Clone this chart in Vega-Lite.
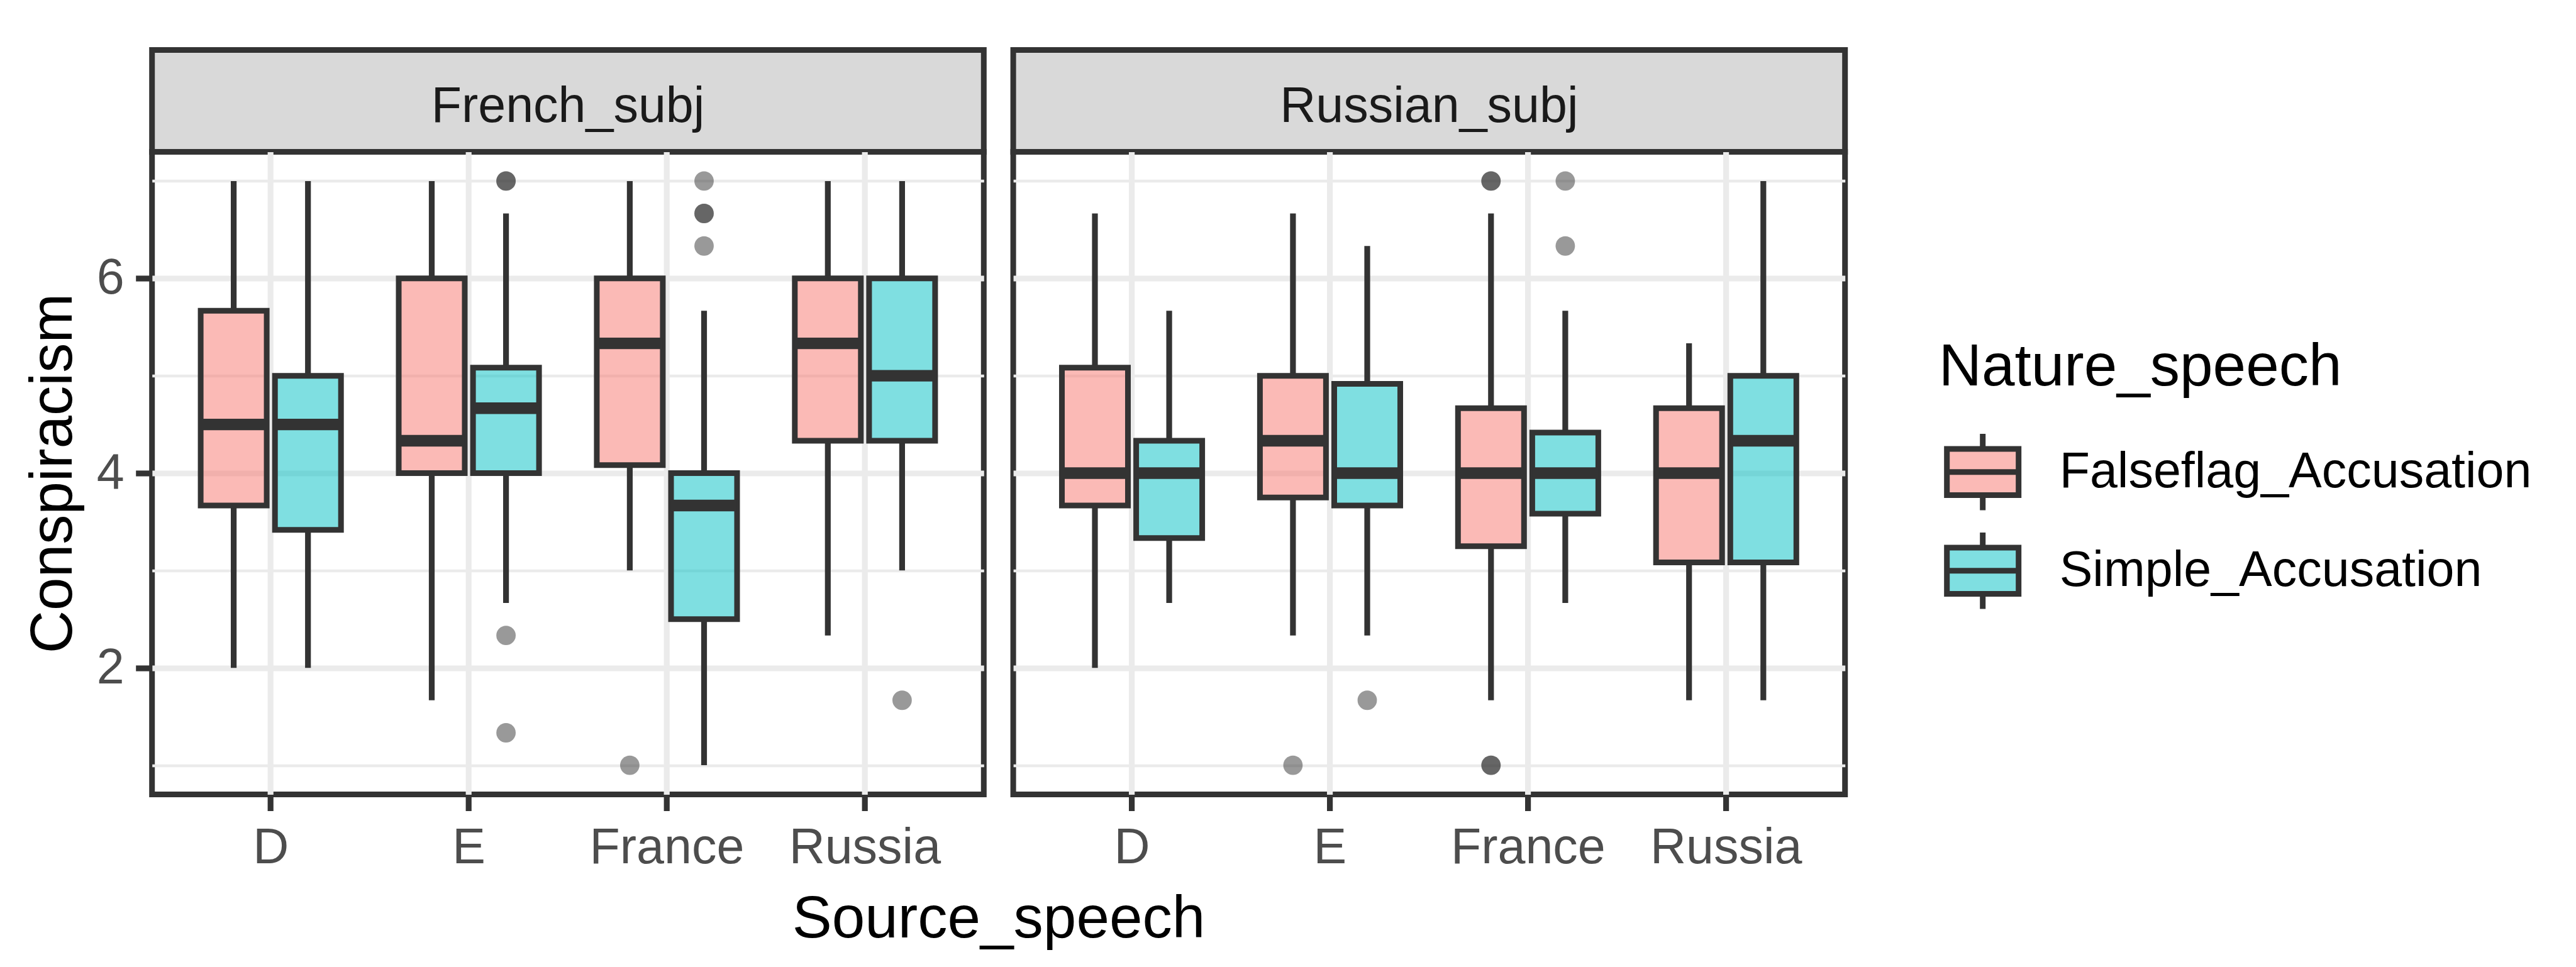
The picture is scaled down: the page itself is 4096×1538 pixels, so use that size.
{
  "$schema": "https://vega.github.io/schema/vega-lite/v6.json",
  "background": "white",
  "padding": {"left": 31.7, "top": 74.5, "right": 5, "bottom": 5},
  "bounds": "flush",
  "columns": 2,
  "spacing": {"row": 0, "column": 46.4},
  "config": {
    "font": "Liberation Sans",
    "view": {"stroke": "#333333", "strokeWidth": 9}
  },
  "datasets": {
    "stats": [
      {"subj": "French_subj", "source": "D", "nature": "Falseflag_Accusation", "lower": 2, "q1": 3.667, "median": 4.5, "q3": 5.667, "upper": 7},
      {"subj": "French_subj", "source": "D", "nature": "Simple_Accusation", "lower": 2, "q1": 3.417, "median": 4.5, "q3": 5, "upper": 7},
      {"subj": "French_subj", "source": "E", "nature": "Falseflag_Accusation", "lower": 1.667, "q1": 4, "median": 4.333, "q3": 6, "upper": 7},
      {"subj": "French_subj", "source": "E", "nature": "Simple_Accusation", "lower": 2.667, "q1": 4, "median": 4.667, "q3": 5.083, "upper": 6.667},
      {"subj": "French_subj", "source": "France", "nature": "Falseflag_Accusation", "lower": 3, "q1": 4.083, "median": 5.333, "q3": 6, "upper": 7},
      {"subj": "French_subj", "source": "France", "nature": "Simple_Accusation", "lower": 1, "q1": 2.5, "median": 3.667, "q3": 4, "upper": 5.667},
      {"subj": "French_subj", "source": "Russia", "nature": "Falseflag_Accusation", "lower": 2.333, "q1": 4.333, "median": 5.333, "q3": 6, "upper": 7},
      {"subj": "French_subj", "source": "Russia", "nature": "Simple_Accusation", "lower": 3, "q1": 4.333, "median": 5, "q3": 6, "upper": 7},
      {"subj": "Russian_subj", "source": "D", "nature": "Falseflag_Accusation", "lower": 2, "q1": 3.667, "median": 4, "q3": 5.083, "upper": 6.667},
      {"subj": "Russian_subj", "source": "D", "nature": "Simple_Accusation", "lower": 2.667, "q1": 3.333, "median": 4, "q3": 4.333, "upper": 5.667},
      {"subj": "Russian_subj", "source": "E", "nature": "Falseflag_Accusation", "lower": 2.333, "q1": 3.75, "median": 4.333, "q3": 5, "upper": 6.667},
      {"subj": "Russian_subj", "source": "E", "nature": "Simple_Accusation", "lower": 2.333, "q1": 3.667, "median": 4, "q3": 4.917, "upper": 6.333},
      {"subj": "Russian_subj", "source": "France", "nature": "Falseflag_Accusation", "lower": 1.667, "q1": 3.25, "median": 4, "q3": 4.667, "upper": 6.667},
      {"subj": "Russian_subj", "source": "France", "nature": "Simple_Accusation", "lower": 2.667, "q1": 3.583, "median": 4, "q3": 4.417, "upper": 5.667},
      {"subj": "Russian_subj", "source": "Russia", "nature": "Falseflag_Accusation", "lower": 1.667, "q1": 3.083, "median": 4, "q3": 4.667, "upper": 5.333},
      {"subj": "Russian_subj", "source": "Russia", "nature": "Simple_Accusation", "lower": 1.667, "q1": 3.083, "median": 4.333, "q3": 5, "upper": 7}
    ],
    "outliers": [
      {"subj": "French_subj", "source": "E", "nature": "Simple_Accusation", "value": 7},
      {"subj": "French_subj", "source": "E", "nature": "Simple_Accusation", "value": 7},
      {"subj": "French_subj", "source": "E", "nature": "Simple_Accusation", "value": 2.333},
      {"subj": "French_subj", "source": "E", "nature": "Simple_Accusation", "value": 1.333},
      {"subj": "French_subj", "source": "France", "nature": "Falseflag_Accusation", "value": 1},
      {"subj": "French_subj", "source": "France", "nature": "Simple_Accusation", "value": 7},
      {"subj": "French_subj", "source": "France", "nature": "Simple_Accusation", "value": 6.667},
      {"subj": "French_subj", "source": "France", "nature": "Simple_Accusation", "value": 6.667},
      {"subj": "French_subj", "source": "France", "nature": "Simple_Accusation", "value": 6.333},
      {"subj": "French_subj", "source": "Russia", "nature": "Simple_Accusation", "value": 1.667},
      {"subj": "Russian_subj", "source": "E", "nature": "Falseflag_Accusation", "value": 1},
      {"subj": "Russian_subj", "source": "E", "nature": "Simple_Accusation", "value": 1.667},
      {"subj": "Russian_subj", "source": "France", "nature": "Falseflag_Accusation", "value": 7},
      {"subj": "Russian_subj", "source": "France", "nature": "Falseflag_Accusation", "value": 7},
      {"subj": "Russian_subj", "source": "France", "nature": "Falseflag_Accusation", "value": 1},
      {"subj": "Russian_subj", "source": "France", "nature": "Falseflag_Accusation", "value": 1},
      {"subj": "Russian_subj", "source": "France", "nature": "Simple_Accusation", "value": 7},
      {"subj": "Russian_subj", "source": "France", "nature": "Simple_Accusation", "value": 6.333}
    ],
    "strips": [
      {"subj": "French_subj"},
      {"subj": "Russian_subj"}
    ]
  },
  "concat": [
    {
      "width": 1322.6,
      "height": 162,
      "view": {"fill": "#D9D9D9", "stroke": "#333333", "strokeWidth": 9},
      "data": {"name": "strips"},
      "transform": [{"filter": "datum.subj === 'French_subj'"}],
      "mark": {"type": "text", "fontSize": 79, "color": "#1A1A1A", "baseline": "alphabetic", "align": "center", "dy": 33},
      "encoding": {"text": {"field": "subj", "type": "nominal"}}
    },
    {
      "width": 1322.6,
      "height": 162,
      "view": {"fill": "#D9D9D9", "stroke": "#333333", "strokeWidth": 9},
      "data": {"name": "strips"},
      "transform": [{"filter": "datum.subj === 'Russian_subj'"}],
      "mark": {"type": "text", "fontSize": 79, "color": "#1A1A1A", "baseline": "alphabetic", "align": "center", "dy": 33},
      "encoding": {"text": {"field": "subj", "type": "nominal"}}
    },
    {
      "width": 1322.6,
      "height": 1022,
      "encoding": {
        "x": {
          "field": "source", "type": "nominal",
          "scale": {"domain": ["D", "E", "France", "Russia"], "paddingInner": 0, "paddingOuter": 0.1},
          "axis": {
            "bandPosition": 0.5, "labelFontSize": 79, "labelColor": "#4D4D4D", "labelAngle": 0, "labelPadding": 21, "labelLimit": 0,
            "tickSize": 26, "tickWidth": 9.2, "tickColor": "#333333", "grid": true, "gridColor": "#EBEBEB", "gridWidth": 9.2,
            "domain": false, "title": "Source_speech", "titleFontSize": 94.5, "titleFontWeight": "normal", "titleColor": "#000000",
            "titlePadding": 27, "titleX": 1345.8, "titleAlign": "center", "titleLimit": 0
          }
        },
        "xOffset": {
          "field": "nature", "type": "nominal",
          "scale": {"domain": ["Falseflag_Accusation", "Simple_Accusation"], "paddingInner": 0.111, "paddingOuter": 0.3887}
        }
      },
      "layer": [
        {
          "data": {"name": "stats"},
          "transform": [{"filter": "datum.subj === 'French_subj'"}],
          "mark": {"type": "rule", "color": "#333333", "strokeWidth": 9.2},
          "encoding": {
            "y": {
              "field": "lower", "type": "quantitative",
              "scale": {"domain": [0.7, 7.3], "nice": false, "zero": false},
              "axis": {
                "values": [1, 2, 3, 4, 5, 6, 7],
                "format": "d",
                "labelExpr": "datum.value % 2 === 0 ? datum.label : ''",
                "grid": true, "gridColor": "#EBEBEB",
                "gridWidth": {"condition": {"test": "datum.value % 2 === 0", "value": 9.2}, "value": 4.6},
                "tickSize": 26, "tickWidth": 9.2, "tickColor": "#333333",
                "tickOpacity": {"condition": {"test": "datum.value % 2 === 0", "value": 1}, "value": 0},
                "labelFontSize": 79, "labelColor": "#4D4D4D", "labelPadding": 18.6,
                "domain": false, "title": "Conspiracism", "titleFontSize": 94.5, "titleFontWeight": "normal",
                "titleColor": "#000000", "titlePadding": 20
              }
            },
            "y2": {"field": "q1"}
          }
        },
        {
          "data": {"name": "stats"},
          "transform": [{"filter": "datum.subj === 'French_subj'"}],
          "mark": {"type": "rule", "color": "#333333", "strokeWidth": 9.2},
          "encoding": {
            "y": {"field": "q3", "type": "quantitative", "title": "Conspiracism"},
            "y2": {"field": "upper"}
          }
        },
        {
          "data": {"name": "stats"},
          "transform": [{"filter": "datum.subj === 'French_subj'"}],
          "mark": {"type": "bar", "fillOpacity": 0.5, "stroke": "#333333", "strokeWidth": 9, "strokeOpacity": 1},
          "encoding": {
            "y": {"field": "q1", "type": "quantitative", "title": "Conspiracism"},
            "y2": {"field": "q3"},
            "fill": {
              "field": "nature", "type": "nominal",
              "scale": {"domain": ["Falseflag_Accusation", "Simple_Accusation"], "range": ["#F8766D", "#00BFC4"]},
              "legend": {
                "title": "Nature_speech", "orient": "none", "legendX": 2841, "legendY": 458.7, "padding": 0,
                "titleFontSize": 94.5, "titleFontWeight": "normal", "titleColor": "#000000", "titlePadding": 56.5, "titleLimit": 0,
                "labelFontSize": 79, "labelColor": "#000000", "labelOffset": 60.5, "labelLimit": 0,
                "symbolType": "M-1,-0.646H1V0.646H-1Z M-1,0H1 M0,-0.646V-1.067 M0,0.646V1.067",
                "symbolSize": 12996, "symbolStrokeWidth": 9, "symbolStrokeColor": "#333333", "symbolOffset": 8.5,
                "rowPadding": -2,
                "encode": {"symbols": {"update": {"fillOpacity": {"value": 0.5}, "stroke": {"value": "#333333"}, "strokeOpacity": {"value": 1}}}}
              }
            }
          }
        },
        {
          "data": {"name": "stats"},
          "transform": [{"filter": "datum.subj === 'French_subj'"}],
          "mark": {"type": "tick", "color": "#333333", "opacity": 1, "thickness": 18.4, "size": 105, "orient": "horizontal"},
          "encoding": {
            "y": {"field": "median", "type": "quantitative", "title": "Conspiracism"}
          }
        },
        {
          "data": {"name": "outliers"},
          "transform": [{"filter": "datum.subj === 'French_subj'"}],
          "mark": {"type": "point", "filled": true, "color": "#333333", "opacity": 0.5, "size": 950},
          "encoding": {
            "y": {"field": "value", "type": "quantitative", "title": "Conspiracism"}
          }
        }
      ]
    },
    {
      "width": 1322.6,
      "height": 1022,
      "encoding": {
        "x": {
          "field": "source", "type": "nominal",
          "scale": {"domain": ["D", "E", "France", "Russia"], "paddingInner": 0, "paddingOuter": 0.1},
          "axis": {
            "bandPosition": 0.5, "labelFontSize": 79, "labelColor": "#4D4D4D", "labelAngle": 0, "labelPadding": 21, "labelLimit": 0,
            "tickSize": 26, "tickWidth": 9.2, "tickColor": "#333333", "grid": true, "gridColor": "#EBEBEB", "gridWidth": 9.2,
            "domain": false, "title": null
          }
        },
        "xOffset": {
          "field": "nature", "type": "nominal",
          "scale": {"domain": ["Falseflag_Accusation", "Simple_Accusation"], "paddingInner": 0.111, "paddingOuter": 0.3887}
        }
      },
      "layer": [
        {
          "data": {"name": "stats"},
          "transform": [{"filter": "datum.subj === 'Russian_subj'"}],
          "mark": {"type": "rule", "color": "#333333", "strokeWidth": 9.2},
          "encoding": {
            "y": {
              "field": "lower", "type": "quantitative",
              "scale": {"domain": [0.7, 7.3], "nice": false, "zero": false},
              "axis": {
                "values": [1, 2, 3, 4, 5, 6, 7],
                "labels": false, "ticks": false, "domain": false, "title": null,
                "grid": true, "gridColor": "#EBEBEB",
                "gridWidth": {"condition": {"test": "datum.value % 2 === 0", "value": 9.2}, "value": 4.6}
              }
            },
            "y2": {"field": "q1"}
          }
        },
        {
          "data": {"name": "stats"},
          "transform": [{"filter": "datum.subj === 'Russian_subj'"}],
          "mark": {"type": "rule", "color": "#333333", "strokeWidth": 9.2},
          "encoding": {
            "y": {"field": "q3", "type": "quantitative"},
            "y2": {"field": "upper"}
          }
        },
        {
          "data": {"name": "stats"},
          "transform": [{"filter": "datum.subj === 'Russian_subj'"}],
          "mark": {"type": "bar", "fillOpacity": 0.5, "stroke": "#333333", "strokeWidth": 9, "strokeOpacity": 1},
          "encoding": {
            "y": {"field": "q1", "type": "quantitative"},
            "y2": {"field": "q3"},
            "fill": {"field": "nature", "type": "nominal"}
          }
        },
        {
          "data": {"name": "stats"},
          "transform": [{"filter": "datum.subj === 'Russian_subj'"}],
          "mark": {"type": "tick", "color": "#333333", "opacity": 1, "thickness": 18.4, "size": 105, "orient": "horizontal"},
          "encoding": {
            "y": {"field": "median", "type": "quantitative"}
          }
        },
        {
          "data": {"name": "outliers"},
          "transform": [{"filter": "datum.subj === 'Russian_subj'"}],
          "mark": {"type": "point", "filled": true, "color": "#333333", "opacity": 0.5, "size": 950},
          "encoding": {
            "y": {"field": "value", "type": "quantitative"}
          }
        }
      ]
    }
  ]
}
